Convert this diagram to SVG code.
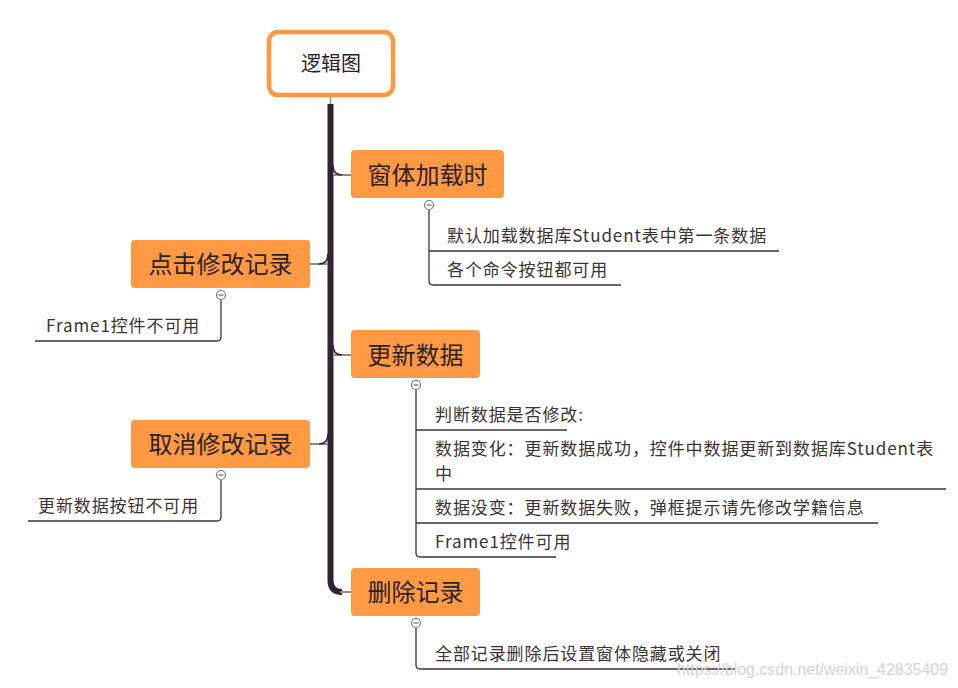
<svg xmlns="http://www.w3.org/2000/svg" width="958" height="688" viewBox="0 0 958 688">
<style>
.node rect.main{fill:#FF9944;}
.ntext{font-family:"Noto Sans CJK SC","Noto Sans",sans-serif;font-size:24px;fill:#2b2226;text-anchor:middle;}
.ctext{font-family:"Noto Sans CJK SC","Noto Sans",sans-serif;font-size:17px;letter-spacing:0.9px;fill:#3d3333;}
.spine{fill:none;stroke:#2f2530;stroke-width:6;}
.br{fill:none;stroke:#8c8a8c;stroke-width:2;}
.fl{fill:none;stroke:#2f2530;stroke-width:1.6;}
.cl{fill:none;stroke:#3e3439;stroke-width:1.3;}
.tog circle{fill:#fff;stroke:#777;stroke-width:1.2;}
.tog line{stroke:#666;stroke-width:1.2;}
</style>

<g id="connectors">
  <line x1="330.5" y1="97" x2="330.5" y2="105" stroke="#8c8a8c" stroke-width="1.5"/>
  <path class="spine" d="M330.5 104 V580 Q330.5 592 342 592"/>
  <line class="br" x1="333" y1="175" x2="351" y2="175"/>
  <path class="fl" d="M333 165 Q333 175 342 175"/>
  <line class="br" x1="310" y1="264" x2="328" y2="264"/>
  <path class="fl" d="M328 254 Q328 264 319 264"/>
  <line class="br" x1="333" y1="355" x2="351" y2="355"/>
  <path class="fl" d="M333 345 Q333 355 342 355"/>
  <line class="br" x1="310" y1="444" x2="328" y2="444"/>
  <path class="fl" d="M328 434 Q328 444 319 444"/>
  <line class="br" x1="340" y1="592" x2="351" y2="592"/>

  <path class="cl" d="M429 209.5 V281 Q429 285 433 285 H621"/>
  <path class="cl" d="M429 251 H779"/>
  <path class="cl" d="M221 299.5 V337 Q221 341 217 341 H35"/>
  <path class="cl" d="M221 479.5 V517 Q221 521 217 521 H28"/>
  <path class="cl" d="M416 389.5 V553 Q416 557 420 557 H556"/>
  <path class="cl" d="M416 430 H567"/>
  <path class="cl" d="M416 489 H946"/>
  <path class="cl" d="M416 523 H878"/>
  <path class="cl" d="M416 627.5 V665 Q416 669 420 669 H735"/>
</g>

<g id="root">
  <rect x="269" y="32" width="124" height="63" rx="9" fill="#fff" stroke="#FF9944" stroke-width="4.5"/>
  <text x="331" y="71" class="ntext" style="font-size:20px">逻辑图</text>
</g>

<g id="n-load" class="node">
  <rect class="main" x="351" y="150" width="153" height="48" rx="4"/>
  <text x="427.5" y="184" class="ntext">窗体加载时</text>
  <g class="tog"><circle cx="429" cy="205" r="4.5"/><line x1="426.5" y1="205" x2="431.5" y2="205"/></g>
</g>
<g id="c-load-1"><text x="447" y="242" class="ctext">默认加载数据库Student表中第一条数据</text></g>
<g id="c-load-2"><text x="447" y="276" class="ctext">各个命令按钮都可用</text></g>

<g id="n-edit" class="node">
  <rect class="main" x="131" y="240" width="179" height="48" rx="4"/>
  <text x="220.5" y="273" class="ntext">点击修改记录</text>
  <g class="tog"><circle cx="221" cy="295" r="4.5"/><line x1="218.5" y1="295" x2="223.5" y2="295"/></g>
</g>
<g id="c-edit-1"><text x="46" y="332" class="ctext">Frame1控件不可用</text></g>

<g id="n-update" class="node">
  <rect class="main" x="351" y="330" width="129" height="48" rx="4"/>
  <text x="415.5" y="364" class="ntext">更新数据</text>
  <g class="tog"><circle cx="416" cy="385" r="4.5"/><line x1="413.5" y1="385" x2="418.5" y2="385"/></g>
</g>
<g id="c-update-1"><text x="435" y="421" class="ctext">判断数据是否修改:</text></g>
<g id="c-update-2"><text x="435" y="455" class="ctext">数据变化：更新数据成功，控件中数据更新到数据库Student表</text><text x="435" y="480" class="ctext">中</text></g>
<g id="c-update-3"><text x="435" y="514" class="ctext">数据没变：更新数据失败，弹框提示请先修改学籍信息</text></g>
<g id="c-update-4"><text x="435" y="548" class="ctext">Frame1控件可用</text></g>

<g id="n-cancel" class="node">
  <rect class="main" x="131" y="420" width="179" height="48" rx="4"/>
  <text x="220.5" y="453" class="ntext">取消修改记录</text>
  <g class="tog"><circle cx="221" cy="475" r="4.5"/><line x1="218.5" y1="475" x2="223.5" y2="475"/></g>
</g>
<g id="c-cancel-1"><text x="38" y="512" class="ctext">更新数据按钮不可用</text></g>

<g id="n-delete" class="node">
  <rect class="main" x="351" y="568" width="129" height="48" rx="4"/>
  <text x="415.5" y="601" class="ntext">删除记录</text>
  <g class="tog"><circle cx="416" cy="623" r="4.5"/><line x1="413.5" y1="623" x2="418.5" y2="623"/></g>
</g>
<g id="c-delete-1"><text x="435" y="660" class="ctext">全部记录删除后设置窗体隐藏或关闭</text></g>

<text x="677" y="675" font-family="Liberation Sans, Arial, sans-serif" font-size="16.5" fill="#d4d4d4" textLength="271" lengthAdjust="spacingAndGlyphs">https://blog.csdn.net/weixin_42835409</text>
</svg>
